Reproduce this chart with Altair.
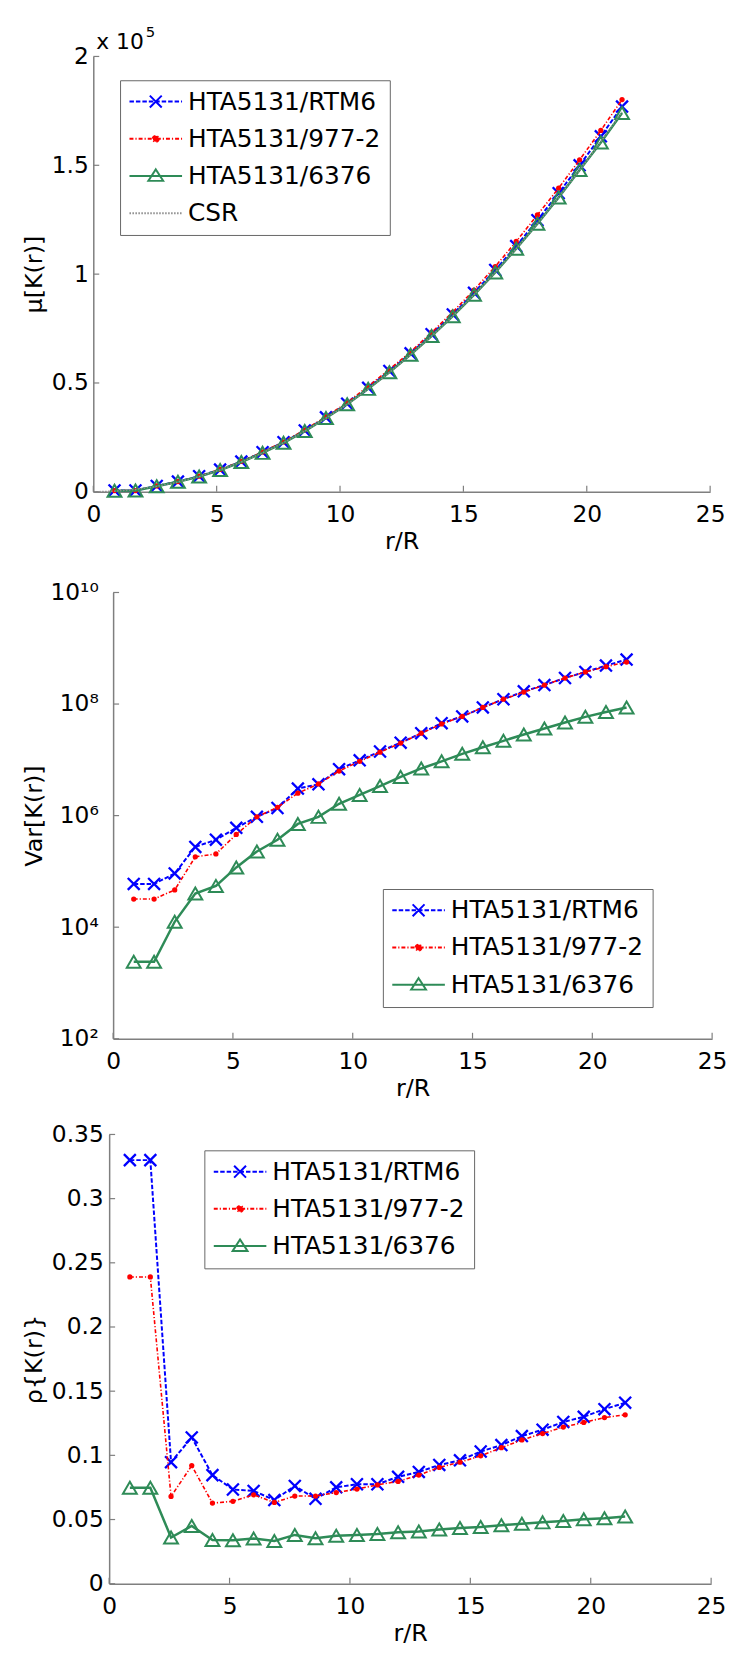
import altair as alt
import pandas as pd

FONT = "DejaVu Sans"
GREY = "#7f7f7f"

# ---------------- data ----------------
names = ["HTA5131/RTM6", "HTA5131/977-2", "HTA5131/6376"]
csr_label = "CSR"
blue, red, green, csr_grey = "#0000ff", "#ff0000", "#2e8b57", "#8c8c8c"

r_R = [0.86, 1.71, 2.57, 3.43, 4.29, 5.14, 6.00, 6.86, 7.71, 8.57, 9.43, 10.29,
       11.14, 12.00, 12.86, 13.71, 14.57, 15.43, 16.29, 17.14, 18.00, 18.86,
       19.71, 20.57, 21.43]
csr_r = [0.0, 0.86, 1.71, 2.57, 3.43, 4.29, 5.14, 6.00, 6.86, 7.71, 8.57, 9.43,
         10.29, 11.14, 12.00, 12.86, 13.71, 14.57, 15.43, 16.29, 17.14, 18.00,
         18.86, 19.71, 20.57, 21.43]

# mean of K(r), in units of 1e5
mu_rtm6 = [0.006, 0.006, 0.027, 0.047, 0.072, 0.102, 0.139, 0.182, 0.228, 0.282,
           0.342, 0.405, 0.478, 0.555, 0.636, 0.724, 0.815, 0.914, 1.019, 1.129,
           1.248, 1.372, 1.500, 1.633, 1.770]
mu_9772 = [0.006, 0.006, 0.027, 0.047, 0.072, 0.103, 0.140, 0.183, 0.230, 0.285,
           0.345, 0.410, 0.485, 0.562, 0.643, 0.732, 0.826, 0.927, 1.035, 1.150,
           1.272, 1.395, 1.525, 1.660, 1.802]
mu_6376 = [0.005, 0.006, 0.026, 0.046, 0.070, 0.100, 0.137, 0.179, 0.225, 0.279,
           0.339, 0.402, 0.473, 0.549, 0.630, 0.716, 0.807, 0.905, 1.008, 1.117,
           1.232, 1.352, 1.478, 1.605, 1.740]
mu_csr = [0.0, 0.003, 0.011, 0.025, 0.045, 0.070, 0.101, 0.137, 0.179, 0.226,
          0.279, 0.338, 0.402, 0.472, 0.548, 0.629, 0.715, 0.807, 0.905, 1.008,
          1.116, 1.231, 1.352, 1.477, 1.608, 1.745]

var_rtm6 = [5.96e4, 5.96e4, 9.2e4, 2.75e5, 3.7e5, 6.05e5, 9.5e5, 1.37e6, 3.06e6,
            3.64e6, 6.8e6, 9.8e6, 1.41e7, 2.03e7, 3.01e7, 4.54e7, 6.0e7, 8.7e7,
            1.22e8, 1.69e8, 2.19e8, 2.93e8, 3.76e8, 4.89e8, 6.27e8]
var_9772 = [3.2e4, 3.2e4, 4.65e4, 1.83e5, 2.06e5, 4.6e5, 9.5e5, 1.41e6, 2.53e6,
            3.69e6, 6.3e6, 9.4e6, 1.37e7, 2.0e7, 3.0e7, 4.4e7, 6.0e7, 8.7e7,
            1.22e8, 1.64e8, 2.19e8, 2.93e8, 3.76e8, 4.68e8, 5.65e8]
var_6376 = [2.4e3, 2.4e3, 1.25e4, 4.0e4, 5.5e4, 1.18e5, 2.28e5, 3.7e5, 7.1e5,
            9.5e5, 1.63e6, 2.35e6, 3.39e6, 4.95e6, 7.0e6, 9.4e6, 1.28e7, 1.68e7,
            2.19e7, 2.85e7, 3.65e7, 4.67e7, 5.9e7, 7.2e7, 8.7e7]

rho_rtm6 = [0.330, 0.330, 0.0947, 0.114, 0.0846, 0.0734, 0.0723, 0.0652, 0.0762,
            0.0661, 0.0751, 0.0775, 0.0775, 0.0833, 0.0871, 0.0925, 0.0961, 0.103,
            0.108, 0.115, 0.120, 0.126, 0.130, 0.136, 0.141]
rho_9772 = [0.239, 0.239, 0.068, 0.092, 0.0628, 0.0642, 0.0693, 0.0633, 0.0683,
            0.0683, 0.071, 0.0737, 0.077, 0.0797, 0.0846, 0.0906, 0.0947, 0.0996,
            0.106, 0.112, 0.117, 0.122, 0.1256, 0.1294, 0.1316]
rho_6376 = [0.0748, 0.0748, 0.036, 0.045, 0.0341, 0.0339, 0.0352, 0.0333, 0.038,
            0.0355, 0.0374, 0.038, 0.0388, 0.0401, 0.0407, 0.0423, 0.0434, 0.0442,
            0.0456, 0.0467, 0.0478, 0.0489, 0.0502, 0.051, 0.0524]

x_ticks = [0, 5, 10, 15, 20, 25]
mu_ticks = [0, 0.5, 1, 1.5, 2]
var_ticks = [1e2, 1e4, 1e6, 1e8, 1e10]
rho_ticks = [0, 0.05, 0.1, 0.15, 0.2, 0.25, 0.3, 0.35]


def long_df(values_by_name):
    rows = []
    for name, vals in values_by_name.items():
        for r, v in zip(r_R, vals):
            rows.append({"series": name, "r": r, "v": v})
    return pd.DataFrame(rows)


mu_df = long_df({names[0]: mu_rtm6, names[1]: mu_9772, names[2]: mu_6376})
csr_df = pd.DataFrame({"series": csr_label, "r": csr_r, "v": mu_csr})
var_df = long_df({names[0]: var_rtm6, names[1]: var_9772, names[2]: var_6376})
rho_df = long_df({names[0]: rho_rtm6, names[1]: rho_9772, names[2]: rho_6376})

# ---------------- styles ----------------
X_PATH = "M-1,-1L1,1M-1,1L1,-1"
STYLE = {
    names[0]: dict(line=dict(color=blue, strokeDash=[4.5, 2], strokeWidth=2),
                   point=dict(shape=X_PATH, size=144, filled=False, strokeWidth=2.3,
                              color=blue, opacity=1)),
    names[1]: dict(line=dict(color=red, strokeDash=[4, 2, 1.2, 2], strokeWidth=1.6),
                   point=dict(shape="circle", size=28, filled=True, color=red, opacity=1)),
    names[2]: dict(line=dict(color=green, strokeWidth=2.5),
                   point=dict(shape="triangle-up", size=196, filled=False, strokeWidth=2,
                              color=green, opacity=1)),
}


def x_arms(a, h):
    out = ""
    for sx, sy in [(1, 1), (-1, 1), (1, -1), (-1, -1)]:
        out += f"M0,0L{h*sx},{h*sy}M{h*sx},{h*sy}L{a*sx},{a*sy}"
    return out


LINE = "M-2.41,0L2.41,0"
LEG_SHAPES = {
    names[0]: LINE + x_arms(0.545, 0.27),
    names[1]: LINE + "M0.27,0A0.27,0.27,0,1,1,-0.27,0A0.27,0.27,0,1,1,0.27,0Z",
    names[2]: LINE + "M0,-0.6L0.68,0.45L-0.68,0.45Z",
    csr_label: LINE,
}
LEG_DASH = {
    names[0]: [4.5, 2],
    names[1]: [4, 2, 1.2, 2],
    names[2]: [1, 0],
    csr_label: [1.5, 1.5],
}
LEG_FILL = {names[0]: "transparent", names[1]: red, names[2]: "transparent",
            csr_label: "transparent"}

XS = alt.Scale(domain=[0, 25], nice=False, zero=False)


def x_axis():
    return alt.Axis(values=x_ticks, format="~g", title="r/R", titleFont=FONT,
                    titleFontSize=24, titleFontWeight="normal", titleColor="black",
                    titleY=50, titleBaseline="middle", labelFont=FONT, labelFontSize=23.5,
                    labelColor="black", labelPadding=11, labelFlush=False,
                    labelOverlap=False, ticks=False, tickSize=0, domainColor=GREY,
                    domainWidth=1.5, grid=False)


def y_axis(title, values, label_pad, title_x, label_expr=None):
    kw = dict(values=values, title=title, titleFont=FONT, titleFontSize=24,
              titleFontWeight="normal", titleColor="black", titleX=title_x,
              titleBaseline="middle", labelFont=FONT, labelFontSize=23.5,
              labelColor="black", labelPadding=label_pad, labelFlush=False,
              labelOverlap=False, ticks=False, tickSize=0, domainColor=GREY,
              domainWidth=1.5, grid=False)
    if label_expr:
        kw["labelExpr"] = label_expr
    else:
        kw["format"] = "~g"
    return alt.Axis(**kw)


def legend_layer(entries, colors, lx, ly):
    def leg():
        return alt.Legend(title=None, orient="none", legendX=lx, legendY=ly,
                          direction="vertical", labelFont=FONT, labelFontSize=25,
                          labelColor="black", labelLimit=400, labelOffset=20,
                          symbolOffset=14.5, symbolSize=484, symbolStrokeWidth=2,
                          rowPadding=11.5, padding=9, strokeColor="#666666",
                          fillColor="white",
                          labelExpr="datum.label + '\u00a0\u00a0'")

    return (alt.Chart(pd.DataFrame({"series": entries}))
            .transform_filter("false")
            .mark_point(strokeWidth=2, opacity=1, filled=False)
            .encode(
                stroke=alt.Stroke("series:N", scale=alt.Scale(domain=entries, range=colors),
                                  legend=leg()),
                fill=alt.Fill("series:N", scale=alt.Scale(domain=entries,
                                                          range=[LEG_FILL[n] for n in entries]),
                              legend=leg()),
                shape=alt.Shape("series:N", scale=alt.Scale(domain=entries,
                                                            range=[LEG_SHAPES[n] for n in entries]),
                                legend=leg()),
                strokeDash=alt.StrokeDash("series:N",
                                          scale=alt.Scale(domain=entries,
                                                          range=[LEG_DASH[n] for n in entries]),
                                          legend=leg()),
            ))


def build_panel(df, yscale, yaxis, width, height, yticks, entries, colors, lx, ly,
                csr=None, extra=None):
    X = alt.X("r:Q", scale=XS, axis=x_axis())
    Y = alt.Y("v:Q", scale=yscale, axis=yaxis)
    layers = []
    for name in names:
        st = STYLE[name]
        sub = alt.Chart(df).transform_filter(alt.datum.series == name)
        layers.append(sub.mark_line(**st["line"]).encode(x=X, y=Y))
        layers.append(sub.mark_point(**st["point"]).encode(x=X, y=Y))
    if csr is not None:
        layers.append(alt.Chart(csr).mark_line(color=csr_grey, strokeDash=[1.5, 1.5],
                                               strokeWidth=1.5).encode(x=X, y=Y))
    # inward tick marks (MATLAB style)
    layers.append(alt.Chart(pd.DataFrame({"r": x_ticks}))
                  .mark_rule(color=GREY, strokeWidth=1.2)
                  .encode(x=X, y=alt.value(height), y2=alt.value(height - 6)))
    layers.append(alt.Chart(pd.DataFrame({"v": yticks}))
                  .mark_rule(color=GREY, strokeWidth=1.2)
                  .encode(y=Y, x=alt.value(0), x2=alt.value(6)))
    layers.append(legend_layer(entries, colors, lx, ly))
    if extra:
        layers += [e.encode(x=X, y=Y) for e in extra]
    return alt.layer(*layers).properties(width=width, height=height)


IND = dict(stroke="independent", fill="independent", shape="independent",
           strokeDash="independent")


def spacer():
    return (alt.Chart(pd.DataFrame({"a": [0]}))
            .mark_point(opacity=0, size=1)
            .encode(x=alt.value(0), y=alt.value(0))
            .properties(width=1, height=1))


def row(panel):
    return (alt.hconcat(spacer(), panel, spacing=0)
            .resolve_scale(**IND).resolve_legend(**IND))


# ---------------- panel 1: mean ----------------
mu_scale = alt.Scale(domain=[0, 2], nice=False, zero=False)
ann_df = pd.DataFrame({"r": [0], "v": [2]})
ann1 = alt.Chart(ann_df).mark_text(text="x 10", align="left", baseline="alphabetic",
                                   dx=3, dy=-8, font=FONT, fontSize=22, color="black")
ann2 = alt.Chart(ann_df).mark_text(text="5", align="left", baseline="alphabetic",
                                   dx=53, dy=-20, font=FONT, fontSize=15, color="black")

p1 = build_panel(mu_df, mu_scale, y_axis("μ[K(r)]", mu_ticks, 5, 35 - 94),
                 622, 439, mu_ticks, names + [csr_label],
                 [blue, red, green, csr_grey], 27, 24, csr=csr_df, extra=[ann1, ann2])

# ---------------- panel 2: variance (log) ----------------
var_scale = alt.Scale(type="log", domain=[1e2, 1e10], nice=False)
var_expr = ("datum.value > 5e9 ? '10\u00b9\u2070' : datum.value > 5e7 ? '10\u2078' : "
            "datum.value > 5e5 ? '10\u2076' : datum.value > 5e3 ? '10\u2074' : '10\u00b2'")
p2 = build_panel(var_df, var_scale, y_axis("Var[K(r)]", var_ticks, 15, 35 - 114, var_expr),
                 604, 450, var_ticks, names, [blue, red, green], 272, 299)

# ---------------- panel 3: rho ----------------
rho_scale = alt.Scale(domain=[0, 0.35], nice=False, zero=False)
p3 = build_panel(rho_df, rho_scale, y_axis("ρ{K(r)}", rho_ticks, 6, 35 - 110),
                 607, 453, rho_ticks, names, [blue, red, green], 96, 16)

inner = (alt.vconcat(row(p2), row(p3), spacing=22.5)
         .resolve_scale(**IND).resolve_legend(**IND))
chart = (alt.vconcat(row(p1), inner, spacing=27.5)
         .resolve_scale(**IND).resolve_legend(**IND)
         .properties(padding={"left": 13, "top": 10, "right": 0, "bottom": 0},
                     background="white")
         .configure_view(stroke=None)
         .configure_axis(grid=False))

chart.save("out.html", embed_options={"renderer": "svg", "actions": False})
